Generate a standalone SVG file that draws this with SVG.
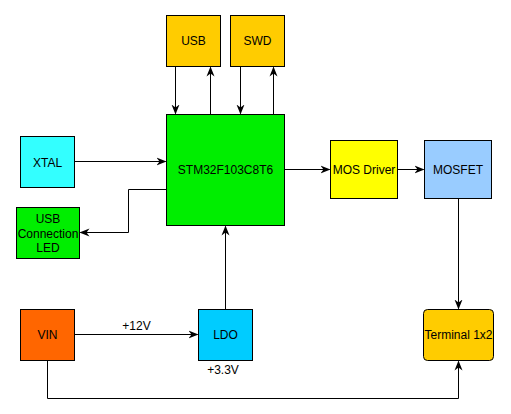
<svg xmlns="http://www.w3.org/2000/svg" width="511" height="414" viewBox="0 0 511 414">
<style>
.box{stroke:#000;stroke-width:1}
.t{font-family:"Liberation Sans",Arial,sans-serif;font-size:12px;fill:#000;text-anchor:middle}
.c{fill:none;stroke:#000;stroke-width:1}
</style>
<defs>
<marker id="a" viewBox="0 0 10 10" refX="9" refY="5" markerWidth="10" markerHeight="10" markerUnits="userSpaceOnUse" orient="auto">
<path d="M0,1 L10,5 L0,9 L3,5 Z" fill="#000"/>
</marker>
</defs>
<rect width="511" height="414" fill="#fff"/>
<g id="connectors">
<path class="c" d="M175.5,66.5 V113.5" marker-end="url(#a)"/>
<path class="c" d="M210.5,114.5 V67.5" marker-end="url(#a)"/>
<path class="c" d="M240.5,66.5 V113.5" marker-end="url(#a)"/>
<path class="c" d="M273.5,114.5 V67.5" marker-end="url(#a)"/>
<path class="c" d="M74.5,161.5 H165.5" marker-end="url(#a)"/>
<path class="c" d="M166.5,189.5 H128.5 V232.5 H80.5" marker-end="url(#a)"/>
<path class="c" d="M284.5,169.5 H329.5" marker-end="url(#a)"/>
<path class="c" d="M397.5,169.5 H423.5" marker-end="url(#a)"/>
<path class="c" d="M458.5,198.5 V308.5" marker-end="url(#a)"/>
<path class="c" d="M225.5,309.5 V226.5" marker-end="url(#a)"/>
<path class="c" d="M74.5,334.5 H197.5" marker-end="url(#a)"/>
<path class="c" d="M47.5,360.5 V398.5 H458.5 V361.5" marker-end="url(#a)"/>
<text class="t" x="136.5" y="330">+12V</text>
<text class="t" x="223" y="374">+3.3V</text>
</g>
<g id="usb"><rect class="box" x="166.5" y="15.5" width="54" height="51" fill="#ffcc00"/><text class="t" x="193.5" y="45">USB</text></g>
<g id="swd"><rect class="box" x="230.5" y="15.5" width="54" height="51" fill="#ffcc00"/><text class="t" x="257.5" y="45">SWD</text></g>
<g id="mcu"><rect class="box" x="166.5" y="114.5" width="118" height="111" fill="#00ee00"/><text class="t" x="225.5" y="174">STM32F103C8T6</text></g>
<g id="xtal"><rect class="box" x="20.5" y="136.5" width="54" height="51" fill="#33ffff"/><text class="t" x="47.5" y="167">XTAL</text></g>
<g id="led"><rect class="box" x="16.5" y="207.5" width="63" height="51" fill="#00ee00"/><text class="t" x="48" y="223">USB</text><text class="t" x="48" y="238">Connection</text><text class="t" x="48" y="252">LED</text></g>
<g id="mosdriver"><rect class="box" x="330.5" y="140.5" width="67" height="58" fill="#ffff00"/><text class="t" x="364" y="174">MOS Driver</text></g>
<g id="mosfet"><rect class="box" x="424.5" y="140.5" width="67" height="58" fill="#99ccff"/><text class="t" x="458" y="174">MOSFET</text></g>
<g id="vin"><rect class="box" x="20.5" y="309.5" width="54" height="51" fill="#ff6600"/><text class="t" x="47.5" y="339">VIN</text></g>
<g id="ldo"><rect class="box" x="198.5" y="309.5" width="54" height="51" fill="#00ccff"/><text class="t" x="225.5" y="339">LDO</text></g>
<g id="terminal"><rect class="box" x="423.5" y="309.5" width="70" height="51" rx="4" fill="#ffcc00"/><text class="t" x="458.5" y="339">Terminal 1x2</text></g>
</svg>
